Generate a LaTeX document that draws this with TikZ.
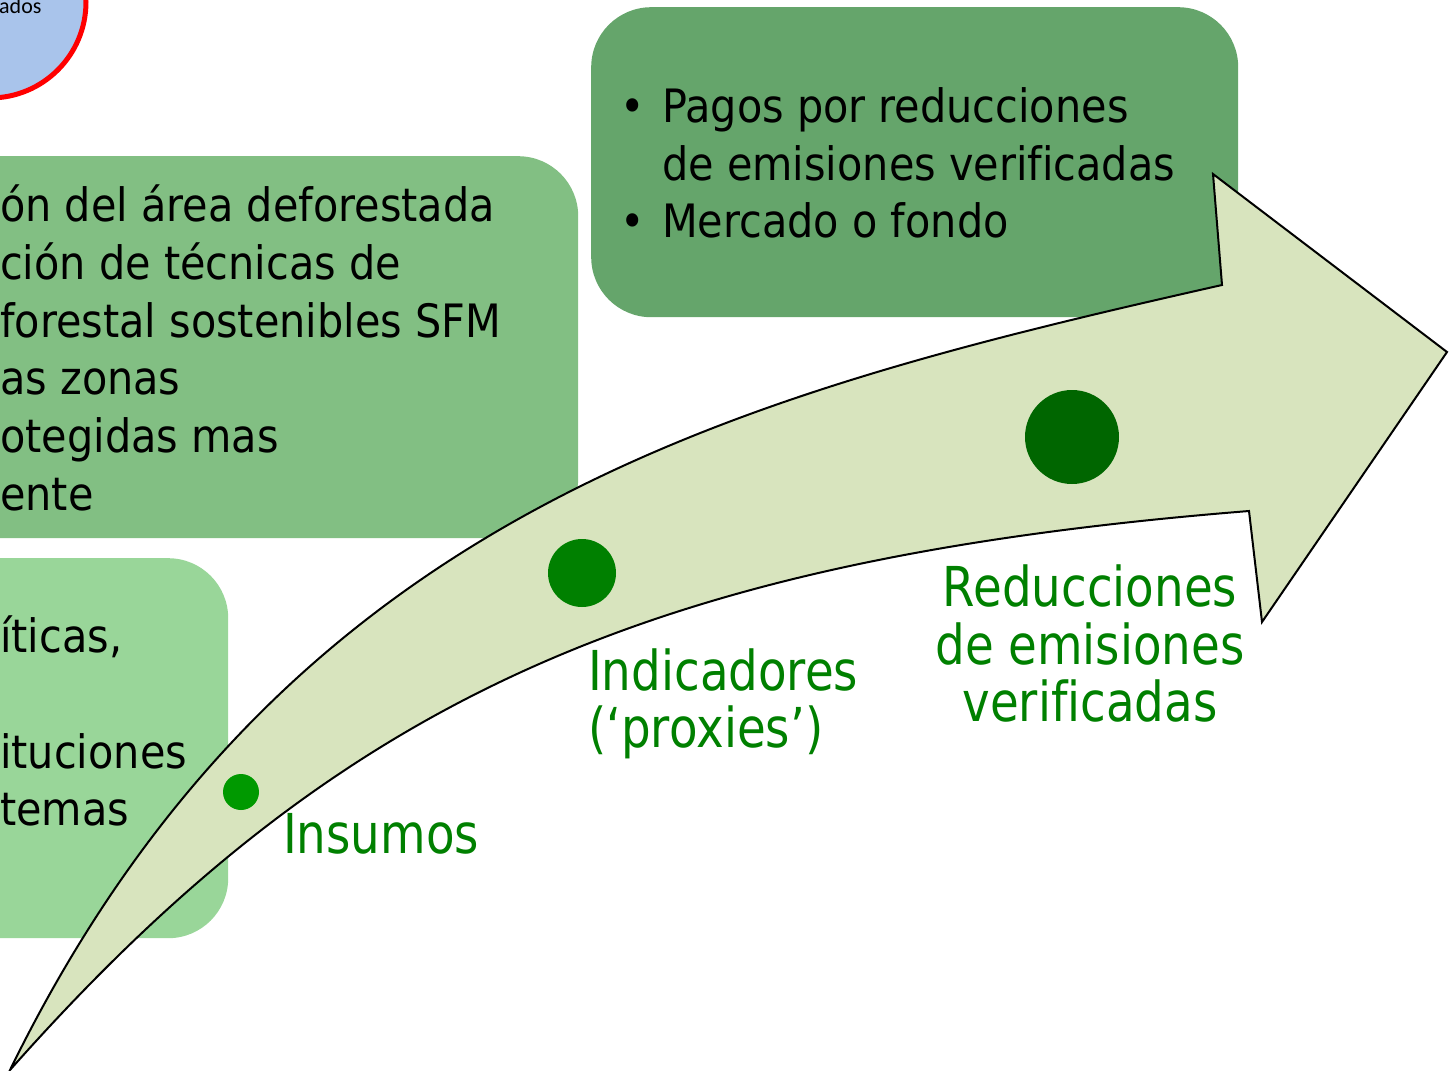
\documentclass[tikz,border=0pt]{standalone}
\usepackage{fontspec}
\setmainfont{DejaVu Sans}
\newfontfamily\boxfont{DejaVu Sans}[FakeStretch=0.9,Ligatures=NoCommon]
\newfontfamily\labfont{DejaVu Sans}[FakeStretch=0.85,Ligatures=NoCommon]
\newfontfamily\calfont{Carlito}
\definecolor{boxdark}{RGB}{101,165,107}
\definecolor{boxmid}{RGB}{130,191,131}
\definecolor{boxlight}{RGB}{153,214,153}
\definecolor{arrowfillc}{RGB}{216,228,190}
\definecolor{circfill}{RGB}{169,196,235}
\definecolor{dotsmall}{RGB}{0,153,0}
\definecolor{dotmid}{RGB}{0,128,0}
\definecolor{dotbig}{RGB}{0,102,0}
\definecolor{labgreen}{RGB}{0,128,0}
\begin{document}
\begin{tikzpicture}[x=1pt,y=-1pt,
  greenbox/.style={rectangle, rounded corners=60pt, draw=none, anchor=north west, inner sep=0pt},
  boxtxt/.style={inner sep=0pt, anchor=base west, font=\boxfont\fontsize{46}{57}\selectfont, text=black},
  labtxt/.style={inner sep=0pt, font=\labfont\fontsize{55}{57}\selectfont, text=labgreen},
  dotnode/.style={circle, draw=none, inner sep=0pt},
  arrowshape/.style={fill=arrowfillc, draw=black, line width=2pt, line join=miter}
]
\useasboundingbox (0,0) rectangle (1449,1071);
\clip (0,0) rectangle (1449,1071);

% top-left circle
\node[circle, draw=red, line width=5pt, fill=circfill, minimum size=192pt, inner sep=0pt] (res) at (-10,2) {};
\node[inner sep=0pt, anchor=base west, font=\calfont\fontsize{22}{26}\selectfont] (restxt) at (-1,13) {ados};

% boxes
\node[greenbox, fill=boxdark, minimum width=647pt, minimum height=310pt] (pay) at (591,7) {};
\node[greenbox, fill=boxmid, minimum width=678pt, minimum height=382pt] (act) at (-100,156) {};
\node[greenbox, fill=boxlight, minimum width=328pt, minimum height=380pt] (inp) at (-100,558) {};

% top-right box text
\node[boxtxt, anchor=base] (b1) at (633,122) {•};
\node[boxtxt] (p1) at (662,122) {Pagos por reducciones};
\node[boxtxt] (p2) at (662,180) {de emisiones verificadas};
\node[boxtxt, anchor=base] (b2) at (633,237) {•};
\node[boxtxt] (p3) at (662,237) {Mercado o fondo};

% middle box text
\node[boxtxt] (a1) at (0,221) {ón del área deforestada};
\node[boxtxt] (a2) at (0,279) {ción de técnicas de};
\node[boxtxt] (a3) at (0,337) {forestal sostenibles SFM};
\node[boxtxt] (a4) at (0,394) {as zonas};
\node[boxtxt] (a5) at (0,452) {otegidas mas};
\node[boxtxt] (a6) at (0,510) {ente};

% lower-left box text
\node[boxtxt] (i1) at (0,652) {íticas,};
\node[boxtxt] (i2) at (0,768) {ituciones};
\node[boxtxt] (i3) at (0,825) {temas};

% curved arrow
\path[arrowshape] (10,1070) .. controls (283,512) and (734.5,395) .. (1222,285)
  -- (1213,174) -- (1447,352) -- (1262,622) -- (1249,511)
  .. controls (651,559) and (341.5,696) .. (10,1070) -- cycle;

% dots
\node[dotnode, fill=dotsmall, minimum size=36pt] (d1) at (241,792) {};
\node[dotnode, fill=dotmid, minimum size=68pt] (d2) at (582,573) {};
\node[dotnode, fill=dotbig, minimum size=94pt] (d3) at (1072,437) {};

% labels
\node[labtxt, anchor=base west] (l1) at (283,853) {Insumos};
\node[labtxt, anchor=base west] (l2a) at (588,690) {Indicadores};
\node[labtxt, anchor=base west] (l2b) at (588,747) {(‘proxies’)};
\node[labtxt, anchor=base] (l3a) at (1090,606) {Reducciones};
\node[labtxt, anchor=base] (l3b) at (1090,664) {de emisiones};
\node[labtxt, anchor=base] (l3c) at (1090,721) {verificadas};
\end{tikzpicture}
\end{document}
